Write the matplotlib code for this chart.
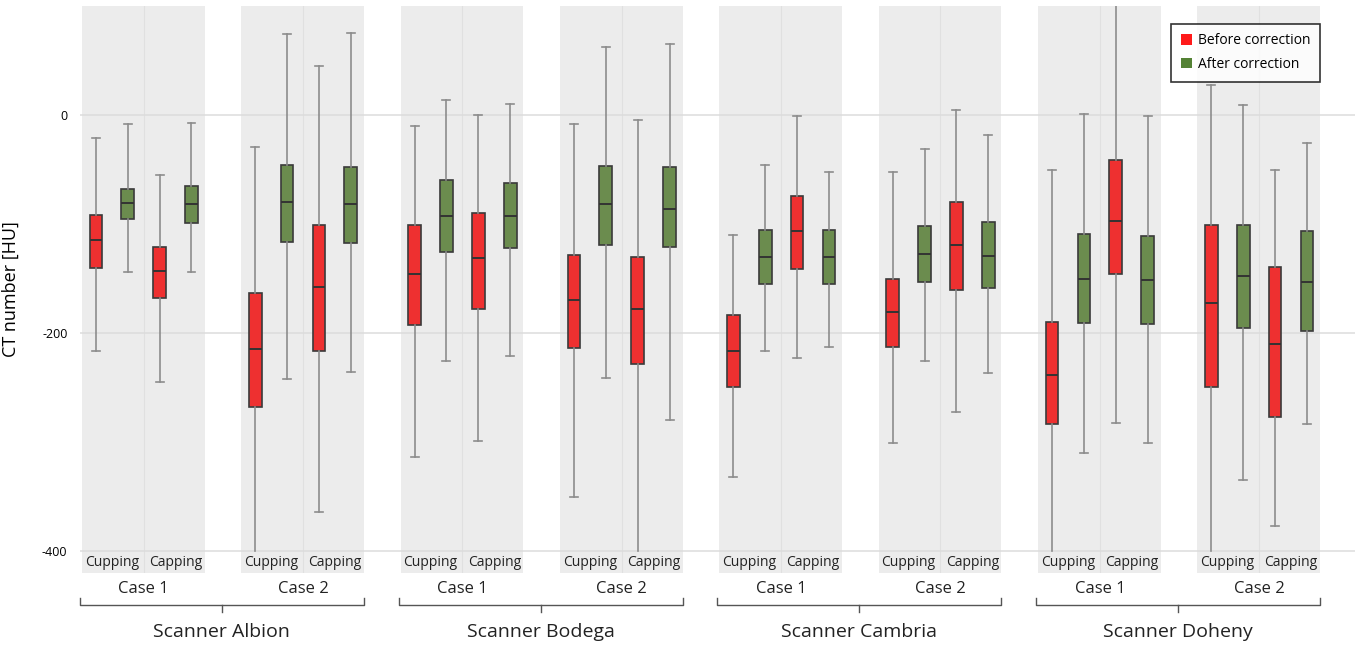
import matplotlib
matplotlib.use('Agg')
import matplotlib.pyplot as plt
from matplotlib.patches import Patch
from matplotlib.transforms import blended_transform_factory

plt.rcParams['font.family'] = ['Open Sans', 'DejaVu Sans']

scanners = ['Albion', 'Bodega', 'Cambria', 'Doheny']
cases = ['Case 1', 'Case 2']
artifacts = ['Cupping', 'Capping']

# one row per box, ordered scanner -> case -> artifact -> (before, after)
# columns: whisker low, q1, median, q3, whisker high  [HU]
before = [
    # Albion
    [-216, -140, -115, -92, -21], [-245, -168, -143, -121, -55],
    [-400, -268, -215, -163, -29], [-364, -216, -158, -101, 45],
    # Bodega
    [-314, -193, -146, -101, -10], [-299, -178, -131, -90, 0],
    [-350, -214, -170, -128, -8], [-400, -228, -178, -130, -5],
    # Cambria
    [-332, -249, -216, -183, -110], [-223, -141, -106, -74, -1],
    [-301, -213, -181, -150, -52], [-272, -160, -119, -80, 5],
    # Doheny
    [-400, -283, -238, -190, -50], [-282, -146, -97, -41, 110],
    [-400, -249, -172, -101, 28], [-377, -277, -210, -139, -50],
]
after = [
    # Albion
    [-144, -95, -81, -68, -8], [-144, -99, -82, -65, -7],
    [-242, -116, -80, -46, 74], [-236, -117, -82, -48, 75],
    # Bodega
    [-226, -126, -93, -60, 14], [-221, -122, -93, -62, 10],
    [-241, -119, -82, -47, 62], [-280, -121, -86, -48, 65],
    # Cambria
    [-216, -155, -130, -105, -46], [-213, -155, -130, -105, -52],
    [-226, -153, -127, -102, -31], [-237, -159, -129, -98, -18],
    # Doheny
    [-310, -191, -150, -109, 1], [-301, -192, -151, -111, -1],
    [-335, -195, -148, -101, 9], [-283, -198, -153, -106, -26],
]

yticks = [0, -200, -400]
red = '#ee3030'
green = '#6b8c4e'

fig = plt.figure(figsize=(13.62, 6.46), dpi=100)
ax = fig.add_axes([0.0587, 0.113, 0.936, 0.8777])
ax.set_xlim(-0.5, 39.5)
ax.set_ylim(-420, 100)

trans = blended_transform_factory(ax.transData, ax.transAxes)

# grey background band per case, with a divider between cupping and capping
for g in range(len(scanners) * len(cases)):
    x0 = 5 * g
    ax.axvspan(x0 - 0.44, x0 + 3.41, color='#ececec', zorder=0, lw=0)
    ax.axvline(x0 + 1.5, color='#e0e0e0', lw=0.8, zorder=0.5)

for y in yticks:
    ax.axhline(y, color='#dcdcdc', lw=1.1, zorder=0.6)

stats, positions, colors = [], [], []
for i, (b, a) in enumerate(zip(before, after)):
    g, k = divmod(i, 2)
    for j, (row, col) in enumerate(((b, red), (a, green))):
        lo, q1, med, q3, hi = row
        stats.append(dict(whislo=lo, q1=q1, med=med, q3=q3, whishi=hi))
        positions.append(5 * g + 2 * k + j)
        colors.append(col)

bp = ax.bxp(stats, positions=positions, widths=0.4, patch_artist=True,
            showfliers=False,
            boxprops=dict(edgecolor='#3a3a3a', linewidth=1.2),
            medianprops=dict(color='#333333', linewidth=1.4),
            whiskerprops=dict(color='#8c8c8c', linewidth=1.2),
            capprops=dict(color='#8c8c8c', linewidth=1.2),
            capwidths=0.25, zorder=3)
for patch, col in zip(bp['boxes'], colors):
    patch.set_facecolor(col)
# no caps where whiskers run off the plotted range
for n, s in enumerate(stats):
    if s['whislo'] <= -400:
        bp['caps'][2 * n].set_visible(False)
    if s['whishi'] >= 100:
        bp['caps'][2 * n + 1].set_visible(False)

# labels under the boxes
for g in range(len(scanners) * len(cases)):
    x0 = 5 * g
    for k, name in enumerate(artifacts):
        ax.text(x0 + 2 * k + 0.5, -410, name, ha='center', va='center',
                fontsize=10, color='#222222', zorder=4)
    ax.text(x0 + 1.5, -0.029, cases[g % 2], transform=trans, ha='center',
            va='center', fontsize=12, color='#222222', clip_on=False)

# scanner brackets
for s, name in enumerate(scanners):
    xl, xr = 10 * s - 0.5, 10 * s + 8.41
    xm = (xl + xr) / 2
    ax.plot([xl, xl, xr, xr], [-0.044, -0.056, -0.056, -0.044],
            transform=trans, color='#555555', lw=1, clip_on=False)
    ax.plot([xm, xm], [-0.056, -0.069], transform=trans,
            color='#555555', lw=1, clip_on=False)
    ax.text(xm, -0.104, 'Scanner ' + name, transform=trans, ha='center',
            va='center', fontsize=14, color='#222222', clip_on=False)

ax.set_xticks([])
ax.set_yticks(yticks)
ax.set_yticklabels([str(t) for t in yticks], fontsize=9)
ax.tick_params(axis='y', length=0, pad=9)
for sp in ax.spines.values():
    sp.set_visible(False)
ax.set_ylabel('CT number [HU]', fontsize=13)
ax.yaxis.set_label_coords(-0.047, 0.5)

handles = [Patch(facecolor='#ff1a1a', edgecolor='none', label='Before correction'),
           Patch(facecolor='#548235', edgecolor='none', label='After correction')]
leg = ax.legend(handles=handles, loc='upper right', bbox_to_anchor=(0.978, 0.981),
                fontsize=10, frameon=True, fancybox=False, handlelength=0.8,
                handleheight=0.8, handletextpad=0.4, borderpad=0.7,
                labelspacing=0.6)
leg.get_frame().set_edgecolor('black')
leg.get_frame().set_linewidth(1.2)
leg.set_zorder(5)

fig.savefig('out.png', dpi=100)
